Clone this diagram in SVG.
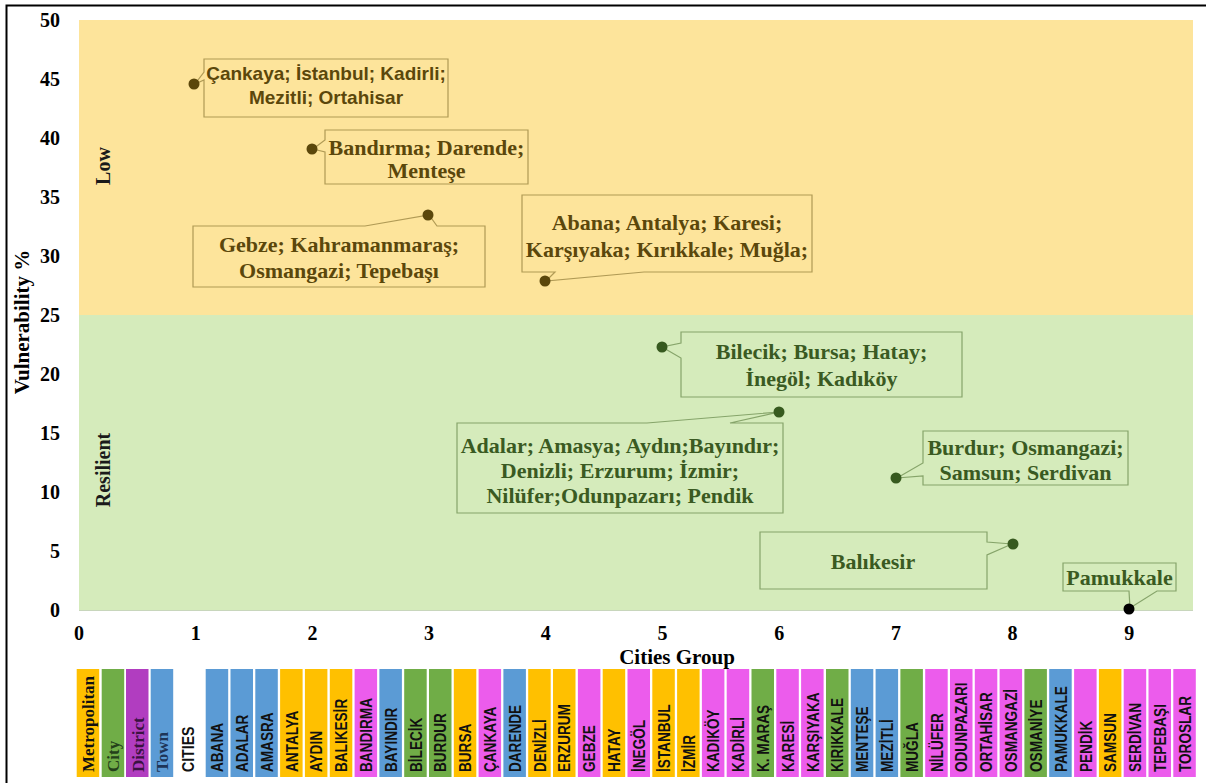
<svg xmlns="http://www.w3.org/2000/svg" width="1206" height="783" viewBox="0 0 1206 783">
  <defs>
    <style>
      .tick { font-family: "Liberation Serif", "Times New Roman", serif; font-weight: bold; font-size: 20px; fill: #000; }
      .axis { font-family: "Liberation Serif", "Times New Roman", serif; font-weight: bold; font-size: 21px; fill: #000; }
      .zone { font-family: "Liberation Serif", "Times New Roman", serif; font-weight: bold; font-size: 20px; fill: #1a1a1a; }
      .tY { font-family: "Liberation Serif", "Times New Roman", serif; font-weight: bold; font-size: 22px; fill: #5b470b; text-anchor: middle; }
      .tYs { font-family: "Liberation Sans", Arial, sans-serif; font-weight: bold; font-size: 19px; fill: #5b470b; text-anchor: middle; }
      .tG { font-family: "Liberation Serif", "Times New Roman", serif; font-weight: bold; font-size: 22px; fill: #3a5a22; text-anchor: middle; }
      .bxY { fill: none; stroke: #b09a55; stroke-width: 1.2; }
      .bxG { fill: none; stroke: #86a46a; stroke-width: 1.2; }
      .dY { fill: #5b470b; }
      .dG { fill: #375a1f; }
      .met { fill: #FFC000; }
      .cty { fill: #70AD47; }
      .dst { fill: #B13DC0; }
      .pnk { fill: #EC5CEC; }
      .twn { fill: #5B9BD5; }
      .bt { font-family: "Liberation Sans", Arial, sans-serif; font-weight: bold; font-size: 17px; fill: #111; }
      .lg { font-family: "Liberation Serif", "Times New Roman", serif; font-weight: bold; font-size: 17px; }
    </style>
  </defs>

  <rect x="0" y="0" width="1206" height="783" fill="#fff"/>
  <!-- frame -->
  <path d="M6.5,783 V5.5 H1206" fill="none" stroke="#000" stroke-width="2"/>

  <!-- plot zones -->
  <g id="zones">
    <rect x="79" y="20" width="1114" height="295" fill="#FDE49B"/>
    <rect x="79" y="315" width="1114" height="295" fill="#D5EBBB"/>
    <line x1="79" y1="610.5" x2="1193" y2="610.5" stroke="#c8d6bc" stroke-width="1"/>
    <text class="zone" transform="translate(110,166) rotate(-90)" text-anchor="middle">Low</text>
    <text class="zone" transform="translate(110,470) rotate(-90)" text-anchor="middle">Resilient</text>
  </g>

  <!-- axes labels -->
  <g id="axes">
    <g class="tick" text-anchor="end">
      <text x="60" y="27">50</text>
      <text x="60" y="86">45</text>
      <text x="60" y="145">40</text>
      <text x="60" y="204">35</text>
      <text x="60" y="263">30</text>
      <text x="60" y="322">25</text>
      <text x="60" y="381">20</text>
      <text x="60" y="440">15</text>
      <text x="60" y="499">10</text>
      <text x="60" y="558">5</text>
      <text x="60" y="617">0</text>
    </g>
    <g class="tick" text-anchor="middle">
      <text x="79" y="640">0</text>
      <text x="195.7" y="640">1</text>
      <text x="312.4" y="640">2</text>
      <text x="429.1" y="640">3</text>
      <text x="545.8" y="640">4</text>
      <text x="662.5" y="640">5</text>
      <text x="779.2" y="640">6</text>
      <text x="895.9" y="640">7</text>
      <text x="1012.6" y="640">8</text>
      <text x="1129.3" y="640">9</text>
    </g>
    <text class="axis" x="677" y="664" text-anchor="middle">Cities Group</text>
    <text class="axis" font-size="22" transform="translate(29,322) rotate(-90)" text-anchor="middle">Vulnerability %</text>
  </g>

  <!-- callout boxes with their pointers -->
  <g id="connectors">
    <path class="bxY" d="M204,59 H448 V117 H204 V80 L195,84 L204,72 Z"/>
    <path class="bxY" d="M325,130 H528 V184 H325 V152 L313,149 L325,140 Z"/>
    <path class="bxY" d="M193,226 H365 L429,215 L437,226 H485 V287 H193 Z"/>
    <path class="bxY" d="M522,195 H812 V272 H644 L546,281 L555,272 H522 Z"/>
    <path class="bxG" d="M681,332 H962 V397 H681 V358 L662,347 L681,343 Z"/>
    <path class="bxG" d="M457,423 H647 L779,412 L730,423 H783 V513 H457 Z"/>
    <path class="bxG" d="M923,431 H1128 V485 H923 V476 L897,478 L923,463 Z"/>
    <path class="bxG" d="M760,532 H987 V542 L1012,544 L987,555 V589 H760 Z"/>
    <path class="bxG" d="M1063,563 H1176 V591 H1157 L1130,608 L1129,591 H1063 Z"/>
  </g>

  <!-- data points and labels -->
  <g id="g1">
    <circle class="dY" cx="194" cy="84" r="5.5"/>
    <text class="tYs" x="326" y="80">Çankaya; İstanbul; Kadirli;</text>
    <text class="tYs" x="326" y="104">Mezitli; Ortahisar</text>
  </g>
  <g id="g2">
    <circle class="dY" cx="312" cy="149" r="5.5"/>
    <text class="tY" x="426.5" y="155">Bandırma; Darende;</text>
    <text class="tY" x="426.5" y="178">Menteşe</text>
  </g>
  <g id="g3">
    <circle class="dY" cx="428" cy="215" r="5.5"/>
    <text class="tY" x="339" y="252">Gebze; Kahramanmaraş;</text>
    <text class="tY" x="339" y="278">Osmangazi; Tepebaşı</text>
  </g>
  <g id="g4">
    <circle class="dY" cx="545" cy="281" r="5.5"/>
    <text class="tY" x="667" y="230">Abana; Antalya; Karesi;</text>
    <text class="tY" x="667" y="257">Karşıyaka; Kırıkkale; Muğla;</text>
  </g>
  <g id="g5">
    <circle class="dG" cx="662" cy="347" r="5.5"/>
    <text class="tG" x="821.5" y="359">Bilecik; Bursa; Hatay;</text>
    <text class="tG" x="821.5" y="386">İnegöl; Kadıköy</text>
  </g>
  <g id="g6">
    <circle class="dG" cx="779" cy="412" r="5.5"/>
    <text class="tG" x="620" y="453">Adalar; Amasya; Aydın;Bayındır;</text>
    <text class="tG" x="620" y="478">Denizli; Erzurum; İzmir;</text>
    <text class="tG" x="620" y="503">Nilüfer;Odunpazarı; Pendik</text>
  </g>
  <g id="g7">
    <circle class="dG" cx="896" cy="478" r="5.5"/>
    <text class="tG" x="1025.5" y="455">Burdur; Osmangazi;</text>
    <text class="tG" x="1025.5" y="480">Samsun; Serdivan</text>
  </g>
  <g id="g8">
    <circle class="dG" cx="1013" cy="544" r="5.5"/>
    <text class="tG" x="873" y="569">Balıkesir</text>
  </g>
  <g id="g9">
    <circle cx="1129" cy="609" r="5.5" fill="#000"/>
    <text class="tG" x="1119.5" y="585">Pamukkale</text>
  </g>

  <!-- settlement type key -->
  <g id="key">
    <rect class="met" x="76.7" y="669" width="22.5" height="108"/>
    <rect class="cty" x="101.7" y="669" width="22.5" height="108"/>
    <rect class="dst" x="126" y="669" width="22.5" height="108"/>
    <rect class="twn" x="150.7" y="669" width="22.5" height="108"/>
    <text class="lg" fill="#111" transform="translate(94,772) rotate(-90)">Metropolitan</text>
    <text class="lg" fill="#24401a" transform="translate(119,772) rotate(-90)">City</text>
    <text class="lg" fill="#3a1240" transform="translate(143.5,772) rotate(-90)">District</text>
    <text class="lg" fill="#1e3558" transform="translate(168,772) rotate(-90)">Town</text>
    <text class="bt" font-size="18" transform="translate(194,772) rotate(-90) scale(0.83,1)">CITIES</text>
  </g>

  <!-- city strip -->
  <g id="cities">
    <rect class="twn" x="205.7" y="669" width="22.5" height="108"/>
    <rect class="twn" x="230.5" y="669" width="22.5" height="108"/>
    <rect class="twn" x="255.3" y="669" width="22.5" height="108"/>
    <rect class="met" x="280.1" y="669" width="22.5" height="108"/>
    <rect class="met" x="304.9" y="669" width="22.5" height="108"/>
    <rect class="met" x="329.8" y="669" width="22.5" height="108"/>
    <rect class="pnk" x="354.6" y="669" width="22.5" height="108"/>
    <rect class="twn" x="379.4" y="669" width="22.5" height="108"/>
    <rect class="cty" x="404.2" y="669" width="22.5" height="108"/>
    <rect class="cty" x="429.0" y="669" width="22.5" height="108"/>
    <rect class="met" x="453.8" y="669" width="22.5" height="108"/>
    <rect class="pnk" x="478.6" y="669" width="22.5" height="108"/>
    <rect class="twn" x="503.4" y="669" width="22.5" height="108"/>
    <rect class="met" x="528.2" y="669" width="22.5" height="108"/>
    <rect class="met" x="553.0" y="669" width="22.5" height="108"/>
    <rect class="pnk" x="577.9" y="669" width="22.5" height="108"/>
    <rect class="met" x="602.7" y="669" width="22.5" height="108"/>
    <rect class="pnk" x="627.5" y="669" width="22.5" height="108"/>
    <rect class="met" x="652.3" y="669" width="22.5" height="108"/>
    <rect class="met" x="677.1" y="669" width="22.5" height="108"/>
    <rect class="pnk" x="701.9" y="669" width="22.5" height="108"/>
    <rect class="pnk" x="726.7" y="669" width="22.5" height="108"/>
    <rect class="cty" x="751.5" y="669" width="22.5" height="108"/>
    <rect class="pnk" x="776.3" y="669" width="22.5" height="108"/>
    <rect class="pnk" x="801.1" y="669" width="22.5" height="108"/>
    <rect class="cty" x="826.0" y="669" width="22.5" height="108"/>
    <rect class="twn" x="850.8" y="669" width="22.5" height="108"/>
    <rect class="twn" x="875.6" y="669" width="22.5" height="108"/>
    <rect class="cty" x="900.4" y="669" width="22.5" height="108"/>
    <rect class="pnk" x="925.2" y="669" width="22.5" height="108"/>
    <rect class="pnk" x="950.0" y="669" width="22.5" height="108"/>
    <rect class="pnk" x="974.8" y="669" width="22.5" height="108"/>
    <rect class="pnk" x="999.6" y="669" width="22.5" height="108"/>
    <rect class="cty" x="1024.4" y="669" width="22.5" height="108"/>
    <rect class="twn" x="1049.2" y="669" width="22.5" height="108"/>
    <rect class="pnk" x="1074.1" y="669" width="22.5" height="108"/>
    <rect class="met" x="1098.9" y="669" width="22.5" height="108"/>
    <rect class="pnk" x="1123.7" y="669" width="22.5" height="108"/>
    <rect class="pnk" x="1148.5" y="669" width="22.5" height="108"/>
    <rect class="pnk" x="1173.3" y="669" width="22.5" height="108"/>

    <text class="bt" transform="translate(223.1,772) rotate(-90) scale(0.8,1)">ABANA</text>
    <text class="bt" transform="translate(247.9,772) rotate(-90) scale(0.8,1)">ADALAR</text>
    <text class="bt" transform="translate(272.7,772) rotate(-90) scale(0.8,1)">AMASRA</text>
    <text class="bt" transform="translate(297.5,772) rotate(-90) scale(0.8,1)">ANTALYA</text>
    <text class="bt" transform="translate(322.3,772) rotate(-90) scale(0.8,1)">AYDIN</text>
    <text class="bt" transform="translate(347.2,772) rotate(-90) scale(0.8,1)">BALIKESİR</text>
    <text class="bt" transform="translate(372.0,772) rotate(-90) scale(0.8,1)">BANDIRMA</text>
    <text class="bt" transform="translate(396.8,772) rotate(-90) scale(0.8,1)">BAYINDIR</text>
    <text class="bt" transform="translate(421.6,772) rotate(-90) scale(0.8,1)">BİLECİK</text>
    <text class="bt" transform="translate(446.4,772) rotate(-90) scale(0.8,1)">BURDUR</text>
    <text class="bt" transform="translate(471.2,772) rotate(-90) scale(0.8,1)">BURSA</text>
    <text class="bt" transform="translate(496.0,772) rotate(-90) scale(0.8,1)">ÇANKAYA</text>
    <text class="bt" transform="translate(520.8,772) rotate(-90) scale(0.8,1)">DARENDE</text>
    <text class="bt" transform="translate(545.6,772) rotate(-90) scale(0.8,1)">DENİZLİ</text>
    <text class="bt" transform="translate(570.4,772) rotate(-90) scale(0.8,1)">ERZURUM</text>
    <text class="bt" transform="translate(595.3,772) rotate(-90) scale(0.8,1)">GEBZE</text>
    <text class="bt" transform="translate(620.1,772) rotate(-90) scale(0.8,1)">HATAY</text>
    <text class="bt" transform="translate(644.9,772) rotate(-90) scale(0.8,1)">İNEGÖL</text>
    <text class="bt" transform="translate(669.7,772) rotate(-90) scale(0.8,1)">İSTANBUL</text>
    <text class="bt" transform="translate(694.5,772) rotate(-90) scale(0.8,1)">İZMİR</text>
    <text class="bt" transform="translate(719.3,772) rotate(-90) scale(0.8,1)">KADIKÖY</text>
    <text class="bt" transform="translate(744.1,772) rotate(-90) scale(0.8,1)">KADİRLİ</text>
    <text class="bt" transform="translate(768.9,772) rotate(-90) scale(0.8,1)">K. MARAŞ</text>
    <text class="bt" transform="translate(793.7,772) rotate(-90) scale(0.8,1)">KARESİ</text>
    <text class="bt" transform="translate(818.5,772) rotate(-90) scale(0.8,1)">KARŞIYAKA</text>
    <text class="bt" transform="translate(843.4,772) rotate(-90) scale(0.8,1)">KIRIKKALE</text>
    <text class="bt" transform="translate(868.2,772) rotate(-90) scale(0.8,1)">MENTEŞE</text>
    <text class="bt" transform="translate(893.0,772) rotate(-90) scale(0.8,1)">MEZİTLİ</text>
    <text class="bt" transform="translate(917.8,772) rotate(-90) scale(0.8,1)">MUĞLA</text>
    <text class="bt" transform="translate(942.6,772) rotate(-90) scale(0.8,1)">NİLÜFER</text>
    <text class="bt" transform="translate(967.4,772) rotate(-90) scale(0.8,1)">ODUNPAZARI</text>
    <text class="bt" transform="translate(992.2,772) rotate(-90) scale(0.8,1)">ORTAHİSAR</text>
    <text class="bt" transform="translate(1017.0,772) rotate(-90) scale(0.8,1)">OSMANGAZİ</text>
    <text class="bt" transform="translate(1041.8,772) rotate(-90) scale(0.8,1)">OSMANİYE</text>
    <text class="bt" transform="translate(1066.6,772) rotate(-90) scale(0.8,1)">PAMUKKALE</text>
    <text class="bt" transform="translate(1091.5,772) rotate(-90) scale(0.8,1)">PENDİK</text>
    <text class="bt" transform="translate(1116.3,772) rotate(-90) scale(0.8,1)">SAMSUN</text>
    <text class="bt" transform="translate(1141.1,772) rotate(-90) scale(0.8,1)">SERDİVAN</text>
    <text class="bt" transform="translate(1165.9,772) rotate(-90) scale(0.8,1)">TEPEBAŞI</text>
    <text class="bt" transform="translate(1190.7,772) rotate(-90) scale(0.8,1)">TOROSLAR</text>
  </g>
</svg>
